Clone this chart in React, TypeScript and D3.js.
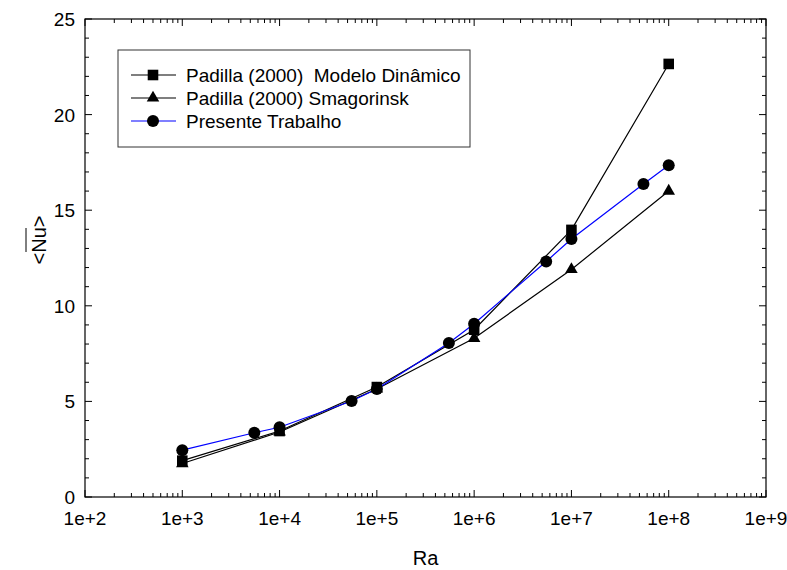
import * as d3 from "d3"

// Ra values and mean Nusselt numbers
const raPadilla = [1e3, 1e4, 1e5, 1e6, 1e7, 1e8]
const nuDinamico = [1.9, 3.45, 5.75, 8.75, 13.97, 22.65]
const nuSmagorinsk = [1.75, 3.4, 5.65, 8.3, 11.9, 16.0]

const raPresente = [1e3, 5.5e3, 1e4, 5.5e4, 1e5, 5.5e5, 1e6, 5.5e6, 1e7, 5.5e7, 1e8]
const nuPresente = [2.45, 3.36, 3.65, 5.02, 5.65, 8.05, 9.06, 12.32, 13.49, 16.37, 17.35]

const xTicks = [1e2, 1e3, 1e4, 1e5, 1e6, 1e7, 1e8, 1e9]
const yTicks = [0, 5, 10, 15, 20, 25]

const legendLabels = [
  "Padilla (2000)  Modelo Dinâmico",
  "Padilla (2000) Smagorinsk",
  "Presente Trabalho",
]

const W = 787
const H = 570
const margin = { top: 19, right: 21, bottom: 73, left: 85 }
const font = "Liberation Sans, Arial, sans-serif"
const fs = 19

export default function App() {
  const x = d3
    .scaleLog()
    .domain([1e2, 1e9])
    .range([margin.left, W - margin.right])
  const y = d3
    .scaleLinear()
    .domain([0, 25])
    .range([H - margin.bottom, margin.top])

  const x0 = x.range()[0]
  const x1 = x.range()[1]
  const y0 = y.range()[0]
  const y1 = y.range()[1]

  // minor ticks: 2..9 in each decade, every 1 unit in y
  const xMinor: number[] = []
  for (let e = 2; e < 9; e++) {
    for (let m = 2; m <= 9; m++) xMinor.push(m * Math.pow(10, e))
  }
  const yMinor = d3.range(0, 26).filter((v) => v % 5 !== 0)

  const line = d3
    .line<[number, number]>()
    .x((d) => x(d[0]))
    .y((d) => y(d[1]))

  const dinamico = raPadilla.map((r, i) => [r, nuDinamico[i]] as [number, number])
  const smag = raPadilla.map((r, i) => [r, nuSmagorinsk[i]] as [number, number])
  const presente = raPresente.map((r, i) => [r, nuPresente[i]] as [number, number])

  const square = d3.symbol(d3.symbolSquare, 112)()
  const triangle = d3.symbol(d3.symbolTriangle, 68)()

  const legendX = 118
  const legendY = 50
  const legendRows = [75, 98, 121]

  return (
    <svg
      width={W}
      height={H}
      style={{ position: "fixed", left: 0, top: 0, background: "#fff" }}
      fontFamily={font}
    >
      <rect x={0} y={0} width={W} height={H} fill="#fff" />

      {/* x ticks, bottom and top, pointing inward */}
      {xMinor.map((v) => (
        <g key={"xm" + v} stroke="#000" strokeWidth={1}>
          <line x1={x(v)} x2={x(v)} y1={y0} y2={y0 - 4} />
          <line x1={x(v)} x2={x(v)} y1={y1} y2={y1 + 4} />
        </g>
      ))}
      {xTicks.map((v) => (
        <g key={"xt" + v}>
          <line x1={x(v)} x2={x(v)} y1={y0} y2={y0 - 7} stroke="#000" />
          <line x1={x(v)} x2={x(v)} y1={y1} y2={y1 + 7} stroke="#000" />
          <text
            x={x(v)}
            y={y0 + 28}
            textAnchor="middle"
            fontSize={fs}
            fill="#000"
          >
            {"1e+" + Math.round(Math.log10(v))}
          </text>
        </g>
      ))}

      {/* y ticks, left and right */}
      {yMinor.map((v) => (
        <g key={"ym" + v} stroke="#000">
          <line x1={x0} x2={x0 + 4} y1={y(v)} y2={y(v)} />
          <line x1={x1} x2={x1 - 4} y1={y(v)} y2={y(v)} />
        </g>
      ))}
      {yTicks.map((v) => (
        <g key={"yt" + v}>
          <line x1={x0} x2={x0 + 7} y1={y(v)} y2={y(v)} stroke="#000" />
          <line x1={x1} x2={x1 - 7} y1={y(v)} y2={y(v)} stroke="#000" />
          <text
            x={x0 - 10}
            y={y(v) + 7}
            textAnchor="end"
            fontSize={fs}
            fill="#000"
          >
            {v}
          </text>
        </g>
      ))}

      <rect
        x={x0}
        y={y1}
        width={x1 - x0}
        height={y0 - y1}
        fill="none"
        stroke="#000"
        strokeWidth={1.2}
      />

      {/* axis titles */}
      <text x={(x0 + x1) / 2} y={565} textAnchor="middle" fontSize={20}>
        Ra
      </text>
      <g transform="translate(46,240) rotate(-90)">
        <text x={0} y={0} textAnchor="middle" fontSize={20}>
          {"<Nu>"}
        </text>
        <line x1={-12} x2={12} y1={-20} y2={-20} stroke="#000" strokeWidth={1} />
      </g>

      {/* series */}
      <path d={line(dinamico)!} fill="none" stroke="#000" strokeWidth={1.2} />
      <path d={line(smag)!} fill="none" stroke="#000" strokeWidth={1.2} />
      <path d={line(presente)!} fill="none" stroke="#0000ff" strokeWidth={1.2} />

      {dinamico.map((d, i) => (
        <path
          key={"sq" + i}
          d={square!}
          transform={`translate(${x(d[0])},${y(d[1])})`}
          fill="#000"
        />
      ))}
      {smag.map((d, i) => (
        <path
          key={"tr" + i}
          d={triangle!}
          transform={`translate(${x(d[0])},${y(d[1])})`}
          fill="#000"
        />
      ))}
      {presente.map((d, i) => (
        <circle key={"ci" + i} cx={x(d[0])} cy={y(d[1])} r={6} fill="#000" />
      ))}

      {/* legend */}
      <rect
        x={legendX}
        y={legendY}
        width={352}
        height={97}
        fill="#fff"
        stroke="#333"
        strokeWidth={1}
      />
      {legendLabels.map((label, i) => {
        const ly = legendRows[i]
        return (
          <g key={label}>
            <line
              x1={131}
              x2={176}
              y1={ly}
              y2={ly}
              stroke={i === 2 ? "#0000ff" : "#000"}
              strokeWidth={1.2}
            />
            {i === 0 && (
              <path d={square!} transform={`translate(153,${ly})`} fill="#000" />
            )}
            {i === 1 && (
              <path d={triangle!} transform={`translate(153,${ly})`} fill="#000" />
            )}
            {i === 2 && <circle cx={153} cy={ly} r={6} fill="#000" />}
            <text
              x={186}
              y={ly + 7}
              fontSize={fs}
              fill="#000"
              style={{ whiteSpace: "pre" }}
            >
              {label}
            </text>
          </g>
        )
      })}
    </svg>
  )
}
